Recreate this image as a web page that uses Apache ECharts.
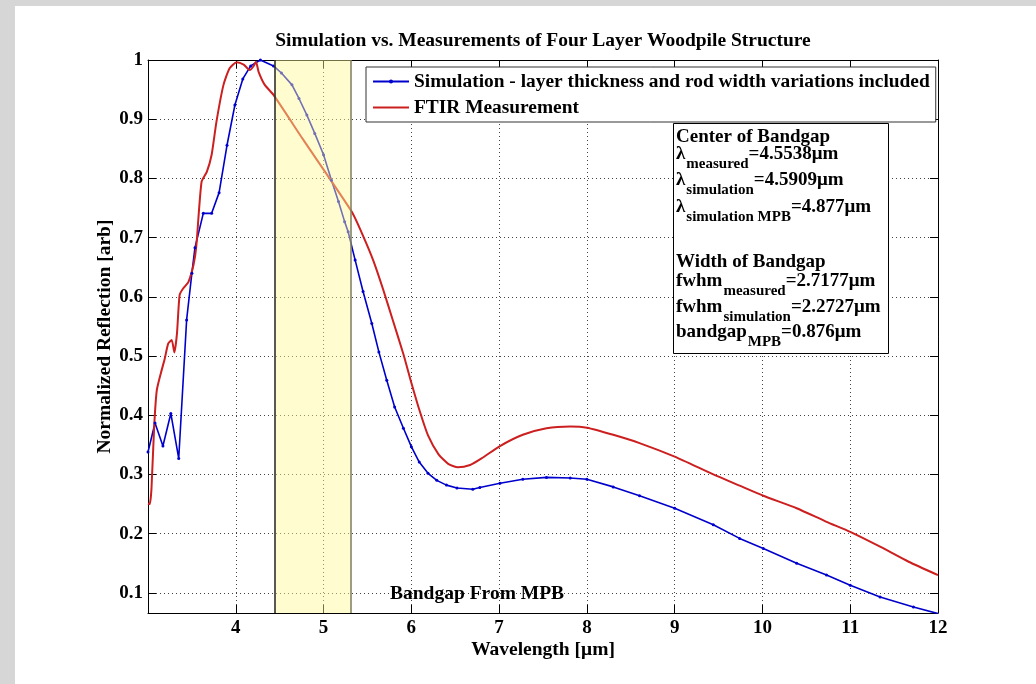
<!DOCTYPE html>
<html>
<head>
<meta charset="utf-8">
<script src="https://cdn.jsdelivr.net/npm/echarts@6/dist/echarts.min.js"></script>
<style>
  html, body { margin: 0; padding: 0; background: #fff; }
  #chart { width: 1036px; height: 684px; }
</style>
</head>
<body>
<div id="chart"></div>
<script>
var titleText = "Simulation vs. Measurements of Four Layer Woodpile Structure";
var simName = "Simulation - layer thickness and rod width variations included";
var ftirName = "FTIR Measurement";

// simulation (blue, with markers)
var simWavelength = [3.00, 3.08, 3.17, 3.26, 3.35, 3.44, 3.50, 3.535, 3.63, 3.725, 3.81, 3.90, 3.99, 4.08, 4.17, 4.28, 4.43, 4.52, 4.64, 4.72, 4.81, 4.90, 5.00, 5.09, 5.17, 5.24, 5.28, 5.36, 5.45, 5.55, 5.63, 5.72, 5.81, 5.91, 6.00, 6.09, 6.19, 6.29, 6.40, 6.52, 6.70, 6.78, 7.01, 7.27, 7.54, 7.81, 8.00, 8.30, 8.60, 9.00, 9.44, 9.74, 10.01, 10.39, 10.73, 11.00, 11.34, 11.72, 12.00];
var simReflection = [0.338, 0.387, 0.348, 0.403, 0.327, 0.561, 0.640, 0.683, 0.741, 0.741, 0.776, 0.856, 0.924, 0.968, 0.990, 1.000, 0.990, 0.978, 0.958, 0.935, 0.907, 0.876, 0.840, 0.797, 0.761, 0.727, 0.710, 0.662, 0.609, 0.555, 0.507, 0.459, 0.414, 0.378, 0.347, 0.321, 0.302, 0.290, 0.282, 0.277, 0.275, 0.278, 0.285, 0.292, 0.295, 0.294, 0.292, 0.279, 0.264, 0.243, 0.215, 0.192, 0.175, 0.150, 0.130, 0.113, 0.093, 0.076, 0.065];

// FTIR measurement (red)
var ftirWavelength = [3.00, 3.02, 3.04, 3.07, 3.10, 3.15, 3.19, 3.23, 3.27, 3.30, 3.33, 3.36, 3.40, 3.46, 3.52, 3.55, 3.61, 3.67, 3.725, 3.78, 3.86, 3.93, 4.01, 4.09, 4.16, 4.20, 4.23, 4.26, 4.33, 4.43, 4.77, 5.32, 5.45, 5.57, 5.68, 5.79, 5.91, 6.00, 6.10, 6.19, 6.31, 6.42, 6.53, 6.67, 6.80, 7.01, 7.27, 7.54, 7.81, 8.00, 8.30, 8.60, 9.00, 9.44, 9.74, 10.01, 10.39, 10.73, 11.00, 11.34, 11.66, 12.00];
var ftirReflection = [0.251, 0.250, 0.277, 0.380, 0.442, 0.473, 0.495, 0.521, 0.527, 0.506, 0.538, 0.603, 0.614, 0.625, 0.655, 0.685, 0.794, 0.811, 0.840, 0.896, 0.958, 0.986, 0.996, 0.992, 0.983, 0.989, 0.997, 0.980, 0.958, 0.941, 0.865, 0.744, 0.703, 0.660, 0.612, 0.560, 0.503, 0.455, 0.405, 0.366, 0.334, 0.318, 0.312, 0.316, 0.327, 0.348, 0.367, 0.378, 0.381, 0.379, 0.367, 0.353, 0.330, 0.300, 0.281, 0.264, 0.243, 0.220, 0.203, 0.178, 0.153, 0.130];

// bandgap from MPB
var bandCenter = 4.877;
var bandWidth = 0.876;
var bandLabel = "Bandgap From MPB";

var xRange = [3, 12];
var yRange = [0.066, 1];

var annoHeads = ["Center of Bandgap", "Width of Bandgap"];
var annoRows = [
  ["λ", "measured", "=4.5538μm"],
  ["λ", "simulation", "=4.5909μm"],
  ["λ", "simulation MPB", "=4.877μm"],
  ["fwhm", "measured", "=2.7177μm"],
  ["fwhm", "simulation", "=2.2727μm"],
  ["bandgap", "MPB", "=0.876μm"]
];

var FONT = "'Liberation Serif', 'Times New Roman', serif";

function pairs(xs, ys) {
  return xs.map(function(x, i) { return [x, ys[i]]; });
}

var measureCtx = document.createElement("canvas").getContext("2d");
function textWidth(str, size, weight) {
  measureCtx.font = (weight || "bold") + " " + size + "px " + FONT;
  return measureCtx.measureText(str).width;
}

function txt(str, x, baseline, size, weight) {
  return {
    type: "text",
    x: x,
    y: baseline - size * 0.32,
    z: 20,
    style: {
      text: str,
      fill: "#000",
      font: (weight || "bold") + " " + size + "px " + FONT,
      textAlign: "left",
      textVerticalAlign: "middle"
    }
  };
}

function buildAnnotation() {
  var boxX = 673, boxY = 123, boxW = 215, boxH = 230;
  var tx = boxX + 3;
  var mainSize = 19, subSize = 15;
  var els = [{
    type: "rect",
    z: 19,
    shape: { x: boxX + 0.5, y: boxY + 0.5, width: boxW, height: boxH },
    style: { fill: "#fff", stroke: "#000", lineWidth: 1 }
  }];
  var headBase = [142.7, 268.3];
  var rowBase = [160, 186, 212.7, 286.7, 313, 338];
  annoHeads.forEach(function(h, i) {
    els.push(txt(h, tx, headBase[i], mainSize));
  });
  annoRows.forEach(function(r, i) {
    var x = tx;
    els.push(txt(r[0], x, rowBase[i], mainSize));
    x += textWidth(r[0], mainSize) + 1;
    els.push(txt(r[1], x, rowBase[i] + 9, subSize));
    x += textWidth(r[1], subSize);
    els.push(txt(r[2], x, rowBase[i], mainSize));
  });
  return els;
}

var chart = echarts.init(document.getElementById("chart"));

var tickStyle = { inside: true, length: 8, lineStyle: { color: "#000", width: 1 } };
var gridDots = { show: true, lineStyle: { color: "#444", width: 1, type: [1, 3] } };
var labelFont = { fontFamily: FONT, fontWeight: "bold", fontSize: 19, color: "#000" };
var nameFont = { fontFamily: FONT, fontWeight: "bold", fontSize: 19.5, color: "#000" };

chart.setOption({
  backgroundColor: "#fff",
  animation: false,
  grid: { left: 148, top: 60, right: 98, bottom: 71, show: false },
  legend: {
    orient: "vertical",
    left: 366,
    top: 67,
    padding: [4, 6, 4, 6],
    itemGap: 5,
    itemWidth: 36,
    itemHeight: 5,
    backgroundColor: "#fff",
    borderColor: "#333",
    borderWidth: 1,
    textStyle: { fontFamily: FONT, fontWeight: "bold", fontSize: 19.4, color: "#000", lineHeight: 21 },
    data: [simName, { name: ftirName, itemStyle: { opacity: 0 } }]
  },
  xAxis: [{
    type: "value",
    min: xRange[0],
    max: xRange[1],
    interval: 1,
    name: "Wavelength [μm]",
    nameLocation: "middle",
    nameGap: 27,
    nameMoveOverlap: false,
    nameTextStyle: nameFont,
    axisLine: { show: true, onZero: false, lineStyle: { color: "#000", width: 1 } },
    axisTick: tickStyle,
    axisLabel: Object.assign({ margin: 6, showMinLabel: false }, labelFont),
    splitLine: gridDots
  }, {
    type: "value",
    position: "top",
    min: xRange[0],
    max: xRange[1],
    interval: 1,
    axisLine: { show: true, onZero: false, lineStyle: { color: "#000", width: 1 } },
    axisTick: tickStyle,
    axisLabel: { show: false },
    splitLine: { show: false }
  }],
  yAxis: [{
    type: "value",
    min: yRange[0],
    max: yRange[1],
    splitNumber: 9,
    name: "Normalized Reflection [arb]",
    nameLocation: "middle",
    nameGap: 33,
    nameMoveOverlap: false,
    nameTextStyle: nameFont,
    axisLine: { show: true, onZero: false, lineStyle: { color: "#000", width: 1 } },
    axisTick: tickStyle,
    axisLabel: Object.assign({
      margin: 5,
      showMinLabel: false,
      formatter: function(v) { return String(Math.round(v * 10) / 10); }
    }, labelFont),
    splitLine: gridDots
  }, {
    type: "value",
    position: "right",
    min: yRange[0],
    max: yRange[1],
    splitNumber: 9,
    axisLine: { show: true, onZero: false, lineStyle: { color: "#000", width: 1 } },
    axisTick: tickStyle,
    axisLabel: { show: false },
    splitLine: { show: false }
  }],
  series: [{
    name: simName,
    type: "line",
    data: pairs(simWavelength, simReflection),
    color: "#0000cc",
    lineStyle: { width: 1.6, color: "#0000cc" },
    symbol: "circle",
    symbolSize: 3,
    showSymbol: true,
    showAllSymbol: true,
    itemStyle: { color: "#0000cc" },
    z: 2
  }, {
    name: ftirName,
    type: "line",
    data: pairs(ftirWavelength, ftirReflection),
    color: "#cc1f1f",
    lineStyle: { width: 2, color: "#cc1f1f" },
    symbol: "none",
    showSymbol: false,
    smooth: 0.2,
    z: 2,
    markArea: {
      silent: true,
      z: 3,
      itemStyle: { color: "rgba(255,250,150,0.45)" },
      data: [[{ xAxis: bandCenter - bandWidth / 2 }, { xAxis: bandCenter + bandWidth / 2 }]]
    },
    markLine: {
      silent: true,
      z: 4,
      symbol: "none",
      label: { show: false },
      data: [
        { xAxis: bandCenter - bandWidth / 2, lineStyle: { color: "#222", width: 1.5, type: "solid" } },
        { xAxis: bandCenter + bandWidth / 2, lineStyle: { color: "#7d7d5e", width: 1.5, type: "solid" } }
      ]
    }
  }],
  graphic: [
    { type: "rect", shape: { x: 0, y: 0, width: 15, height: 684 }, style: { fill: "#d6d6d6" } },
    { type: "rect", shape: { x: 0, y: 0, width: 1036, height: 6 }, style: { fill: "#d6d6d6" } },
    {
      type: "text",
      x: 543,
      y: 41,
      style: {
        text: titleText,
        fill: "#000",
        font: "bold 19.5px " + FONT,
        textAlign: "center",
        textVerticalAlign: "middle"
      }
    },
    {
      type: "text",
      x: 390,
      y: 594,
      z: 20,
      style: {
        text: bandLabel,
        fill: "#000",
        font: "bold 19.5px " + FONT,
        textAlign: "left",
        textVerticalAlign: "middle"
      }
    }
  ].concat(buildAnnotation())
});
</script>
</body>
</html>
